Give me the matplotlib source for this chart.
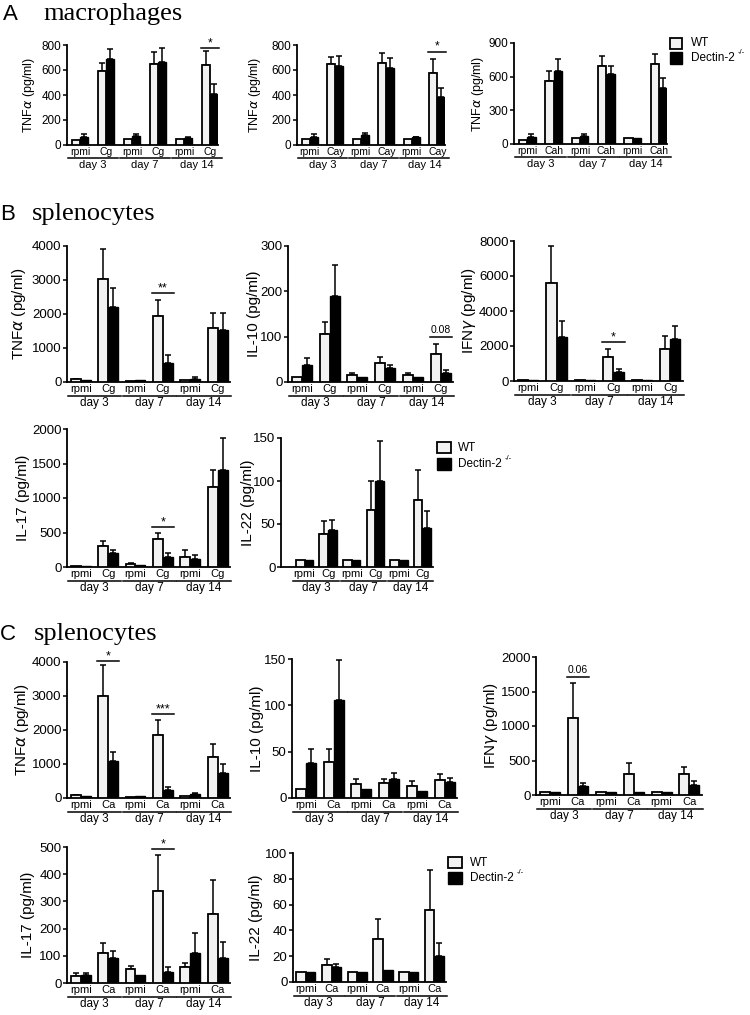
import numpy as np
import matplotlib
matplotlib.use('Agg')
import matplotlib.pyplot as plt
from matplotlib.patches import Rectangle
from matplotlib.transforms import blended_transform_factory, ScaledTranslation

W, H = 750, 1015
plt.rcParams['font.family'] = ['Liberation Sans', 'DejaVu Sans']
plt.rcParams['mathtext.fontset'] = 'dejavusans'

days = ['day 3', 'day 7', 'day 14']

# ---- A: macrophages ----
a1_wt = [40, 595, 50, 645, 50, 640]
a1_wt_err = [0, 60, 0, 95, 0, 110]
a1_ko = [65, 685, 75, 665, 55, 410]
a1_ko_err = [25, 85, 15, 115, 5, 75]

a2_wt = [45, 645, 50, 655, 50, 575]
a2_wt_err = [0, 60, 0, 80, 0, 110]
a2_ko = [65, 635, 80, 615, 60, 385]
a2_ko_err = [20, 75, 12, 80, 5, 70]

a3_wt = [40, 565, 50, 695, 50, 715]
a3_wt_err = [0, 85, 0, 90, 0, 85]
a3_ko = [65, 650, 75, 620, 50, 500]
a3_ko_err = [20, 105, 10, 75, 0, 90]

# ---- B: splenocytes, Cg ----
b1_wt = [90, 3030, 40, 1950, 50, 1580]
b1_wt_err = [10, 870, 0, 470, 0, 450]
b1_ko = [50, 2200, 50, 550, 100, 1540]
b1_ko_err = [0, 560, 0, 240, 40, 490]

b2_wt = [10, 105, 15, 42, 15, 62]
b2_wt_err = [0, 28, 5, 13, 5, 22]
b2_ko = [38, 190, 10, 31, 11, 20]
b2_ko_err = [15, 67, 0, 6, 0, 6]

b3_wt = [30, 5600, 30, 1400, 30, 1850]
b3_wt_err = [0, 2100, 0, 450, 0, 700]
b3_ko = [30, 2500, 30, 500, 30, 2400]
b3_ko_err = [0, 950, 0, 200, 0, 750]

b4_wt = [20, 310, 50, 400, 150, 1160]
b4_wt_err = [0, 70, 10, 100, 90, 240]
b4_ko = [20, 200, 25, 150, 110, 1400]
b4_ko_err = [0, 40, 0, 50, 70, 470]

b5_wt = [8, 38, 8, 66, 8, 78]
b5_wt_err = [0, 16, 0, 34, 0, 35]
b5_ko = [8, 43, 8, 100, 8, 45]
b5_ko_err = [0, 12, 0, 47, 0, 20]

# ---- C: splenocytes, Ca ----
c1_wt = [90, 3000, 40, 1850, 50, 1220]
c1_wt_err = [10, 900, 0, 450, 0, 380]
c1_ko = [60, 1080, 50, 250, 110, 740]
c1_ko_err = [0, 280, 0, 80, 30, 250]

c2_wt = [10, 39, 15, 16, 13, 19]
c2_wt_err = [0, 14, 6, 5, 5, 7]
c2_ko = [38, 106, 10, 20, 8, 17]
c2_ko_err = [15, 43, 0, 7, 0, 5]

c3_wt = [50, 1120, 50, 300, 40, 300]
c3_wt_err = [0, 510, 0, 170, 0, 100]
c3_ko = [50, 130, 50, 50, 50, 140]
c3_ko_err = [0, 50, 0, 0, 0, 60]

c4_wt = [25, 110, 50, 338, 57, 255]
c4_wt_err = [10, 37, 12, 132, 15, 125]
c4_ko = [30, 92, 28, 40, 110, 92]
c4_ko_err = [5, 25, 0, 18, 73, 58]

c5_wt = [8, 13, 8, 33, 8, 56]
c5_wt_err = [0, 5, 0, 16, 0, 31]
c5_ko = [8, 12, 8, 9, 8, 20]
c5_ko_err = [0, 2, 0, 0, 0, 10]

fig = plt.figure(figsize=(W / 100, H / 100), dpi=100)


def add_ax(left, top, right, bottom):
    return fig.add_axes([left / W, 1 - bottom / H, (right - left) / W, (bottom - top) / H])


def px_off(ax, px):
    tr = blended_transform_factory(ax.transData, ax.transAxes)
    return tr + ScaledTranslation(0, -px / 100, fig.dpi_scale_trans)


def panel(box, wt, wt_err, ko, ko_err, stim, ymax, ystep, ylabel, ylab_px,
          sigs=(), xlim=(-0.5, 5.45), w=0.36, fs=9.5, cfs=8, lfs=11, off=(7, 14, 21)):
    ax = add_ax(*box)
    x = np.arange(6)
    wt = np.array(wt, float)
    ko = np.array(ko, float)
    wt_err = np.array(wt_err, float)
    ko_err = np.array(ko_err, float)
    ax.bar(x - w / 2, wt, w, color='#f2f2f2', edgecolor='black', linewidth=1.3, zorder=3)
    ax.bar(x + w / 2, ko, w, color='black', edgecolor='black', linewidth=1.0, zorder=3)
    m = wt_err > 0
    ax.errorbar((x - w / 2)[m], wt[m], yerr=[np.zeros(m.sum()), wt_err[m]], fmt='none',
                ecolor='black', elinewidth=1.1, capsize=2, capthick=1.1, zorder=2)
    m = ko_err > 0
    ax.errorbar((x + w / 2)[m], ko[m], yerr=[np.zeros(m.sum()), ko_err[m]], fmt='none',
                ecolor='black', elinewidth=1.1, capsize=2, capthick=1.1, zorder=2)

    ax.set_xlim(*xlim)
    ax.set_ylim(0, ymax)
    ax.set_yticks(np.arange(0, ymax + ystep / 2, ystep))
    ax.set_xticks([])
    ax.tick_params(axis='y', direction='out', length=3, width=1.1, labelsize=fs, pad=1)
    for s in ['top', 'right']:
        ax.spines[s].set_visible(False)
    for s in ['left', 'bottom']:
        ax.spines[s].set_linewidth(1.3)
    ax.set_ylabel(ylabel, fontsize=lfs)
    ax.yaxis.set_label_coords((ylab_px - box[0]) / (box[2] - box[0]), 0.5)

    # group labels under the axis
    for i in range(6):
        lab = 'rpmi' if i % 2 == 0 else stim
        ax.text(i, 0, lab, transform=px_off(ax, off[0]), ha='center', va='center', fontsize=cfs)
    for j, d in enumerate(days):
        ax.plot([2 * j - 0.47, 2 * j + 1.47], [0, 0], transform=px_off(ax, off[1]),
                color='black', lw=1.1, clip_on=False)
        ax.text(2 * j + 0.5, 0, d, transform=px_off(ax, off[2]), ha='center', va='center',
                fontsize=cfs + 0.5)

    for i, yv, lab in sigs:
        ax.plot([i - w * 1.1, i + w * 1.1], [yv, yv], color='black', lw=1.1, clip_on=False)
        if lab.startswith('0'):
            ax.text(i, yv + ymax * 0.015, lab, ha='center', va='bottom', fontsize=cfs - 0.5)
        else:
            ax.text(i, yv - ymax * 0.01, lab, ha='center', va='bottom', fontsize=cfs + 1)
    return ax


tnf = 'TNF$\\alpha$ (pg/ml)'
ifn = 'IFN$\\gamma$ (pg/ml)'
a_kw = dict(xlim=(-0.5, 5.3), w=0.32, fs=8.5, cfs=7.5, lfs=9, off=(7, 13, 20))

# A
panel((67, 45, 218, 145), a1_wt, a1_wt_err, a1_ko, a1_ko_err, 'Cg', 800, 200, tnf, 37,
      sigs=[(5, 775, '*')], **a_kw)
panel((297, 45, 445, 145), a2_wt, a2_wt_err, a2_ko, a2_ko_err, 'Cay', 800, 200, tnf, 263,
      sigs=[(5, 745, '*')], **a_kw)
panel((514, 43, 667, 144), a3_wt, a3_wt_err, a3_ko, a3_ko_err, 'Cah', 900, 300, tnf, 486,
      **a_kw)

# B
panel((67, 246, 230, 382), b1_wt, b1_wt_err, b1_ko, b1_ko_err, 'Cg', 4000, 1000, tnf, 28,
      sigs=[(3, 2620, '**')])
panel((288, 246, 453, 382), b2_wt, b2_wt_err, b2_ko, b2_ko_err, 'Cg', 300, 100,
      'IL-10 (pg/ml)', 261, sigs=[(5, 99, '0.08')])
panel((514, 241, 683, 381), b3_wt, b3_wt_err, b3_ko, b3_ko_err, 'Cg', 8000, 2000, ifn, 478,
      sigs=[(3, 2230, '*')])
panel((67, 429, 230, 567), b4_wt, b4_wt_err, b4_ko, b4_ko_err, 'Cg', 2000, 500,
      'IL-17 (pg/ml)', 30, sigs=[(3, 580, '*')])
panel((281, 438, 433, 567), b5_wt, b5_wt_err, b5_ko, b5_ko_err, 'Cg', 150, 50,
      'IL-22 (pg/ml)', 255, xlim=(-1.0, 5.45), w=0.37)

# C
panel((67, 662, 230, 798), c1_wt, c1_wt_err, c1_ko, c1_ko_err, 'Ca', 4000, 1000, tnf, 31,
      sigs=[(1, 4030, '*'), (3, 2470, '***')])
panel((292, 659, 457, 798), c2_wt, c2_wt_err, c2_ko, c2_ko_err, 'Ca', 150, 50,
      'IL-10 (pg/ml)', 264)
panel((536, 657, 702, 795), c3_wt, c3_wt_err, c3_ko, c3_ko_err, 'Ca', 2000, 500, ifn, 500,
      sigs=[(1, 1710, '0.06')])
panel((67, 847, 230, 983), c4_wt, c4_wt_err, c4_ko, c4_ko_err, 'Ca', 500, 100,
      'IL-17 (pg/ml)', 35, sigs=[(3, 493, '*')])
panel((293, 853, 446, 982), c5_wt, c5_wt_err, c5_ko, c5_ko_err, 'Ca', 100, 20,
      'IL-22 (pg/ml)', 263, xlim=(-0.5, 5.45), w=0.37)

# panel headers
for lx, wx, yb, letter, word in [(3, 43, 20, 'A', 'macrophages'),
                                  (0, 32, 220, 'B', 'splenocytes'),
                                  (0, 34, 640, 'C', 'splenocytes')]:
    fig.text(lx / W, 1 - yb / H, letter, fontsize=16, va='baseline', ha='left')
    fig.text(wx / W, 1 - yb / H, word, fontsize=19, va='baseline', ha='left',
             family='Liberation Serif')

# legends
renderer = fig.canvas.get_renderer()
for bx, tx, wy, dy, sz in [(670, 691, 38, 52, 12), (437, 458, 442, 458, 14),
                           (448, 470, 857, 872, 14)]:
    fig.add_artist(Rectangle((bx / W, 1 - (wy + 11) / H), sz / W, 11 / H,
                             transform=fig.transFigure, facecolor='#f2f2f2',
                             edgecolor='black', lw=1.3))
    fig.add_artist(Rectangle((bx / W, 1 - (dy + 12) / H), sz / W, 12 / H,
                             transform=fig.transFigure, facecolor='black',
                             edgecolor='black', lw=1.0))
    fig.text(tx / W, 1 - (wy + 5.5) / H, 'WT', fontsize=8.5, va='center')
    t = fig.text(tx / W, 1 - (dy + 6) / H, 'Dectin-2', fontsize=8.5, va='center')
    bb = t.get_window_extent(renderer)
    fig.text((bb.x1 + 3) / W, 1 - (dy + 1) / H, '-/-', fontsize=5.5, va='center')

fig.savefig('out.png', dpi=100)
